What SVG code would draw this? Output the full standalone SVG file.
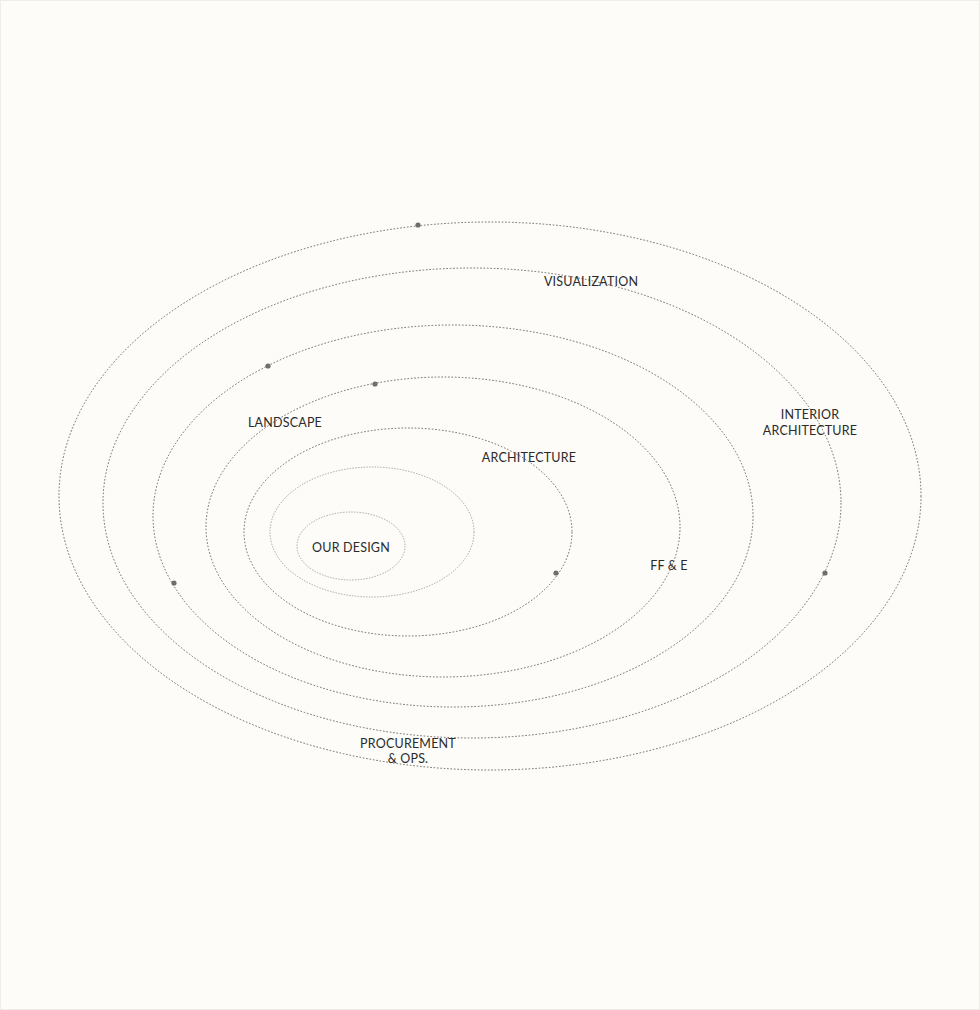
<svg xmlns="http://www.w3.org/2000/svg" width="980" height="1010" viewBox="0 0 980 1010">
<style>
.orbit{fill:none;stroke:#5a5a5a;stroke-width:0.9;stroke-dasharray:1.6 1.8}
.inner{fill:none;stroke:#9a9a9a;stroke-width:0.9;stroke-dasharray:1.4 1.4}
.dot{fill:#6e6e6e}
.lbl{font-family:Lato,"Liberation Sans",sans-serif;font-size:12.5px;fill:#2b2b2b;text-anchor:middle;letter-spacing:0.2px}
</style>
<rect x="0" y="0" width="980" height="1010" fill="#fdfcf8"/>
<rect x="0.5" y="0.5" width="979" height="1009" fill="none" stroke="#eeede8" stroke-width="1"/>
<g id="connectors">
<ellipse class="orbit" cx="490" cy="496" rx="431" ry="274"/>
<ellipse class="orbit" cx="472" cy="503" rx="369" ry="235"/>
<ellipse class="orbit" cx="453" cy="516" rx="300" ry="191"/>
<ellipse class="orbit" cx="443" cy="527" rx="237" ry="150"/>
<ellipse class="orbit" cx="408" cy="532" rx="164" ry="104"/>
<ellipse class="inner" cx="372" cy="532" rx="102" ry="65"/>
<ellipse class="inner" cx="351" cy="546" rx="54" ry="34"/>
</g>
<g id="dots">
<circle class="dot" cx="418" cy="225" r="2.6"/>
<circle class="dot" cx="268" cy="366" r="2.6"/>
<circle class="dot" cx="375" cy="384" r="2.6"/>
<circle class="dot" cx="556" cy="573" r="2.6"/>
<circle class="dot" cx="174" cy="583" r="2.6"/>
<circle class="dot" cx="825" cy="573" r="2.6"/>
</g>
<g id="node-visualization"><text class="lbl" x="591" y="286">VISUALIZATION</text></g>
<g id="node-landscape"><text class="lbl" x="285" y="427">LANDSCAPE</text></g>
<g id="node-architecture"><text class="lbl" x="529" y="462">ARCHITECTURE</text></g>
<g id="node-interior"><text class="lbl" x="810" y="419">INTERIOR</text><text class="lbl" x="810" y="435">ARCHITECTURE</text></g>
<g id="node-our-design"><text class="lbl" x="351" y="552">OUR DESIGN</text></g>
<g id="node-ffe"><text class="lbl" x="669" y="570">FF &amp; E</text></g>
<g id="node-procurement"><text class="lbl" x="408" y="748">PROCUREMENT</text><text class="lbl" x="408" y="763">&amp; OPS.</text></g>
</svg>
